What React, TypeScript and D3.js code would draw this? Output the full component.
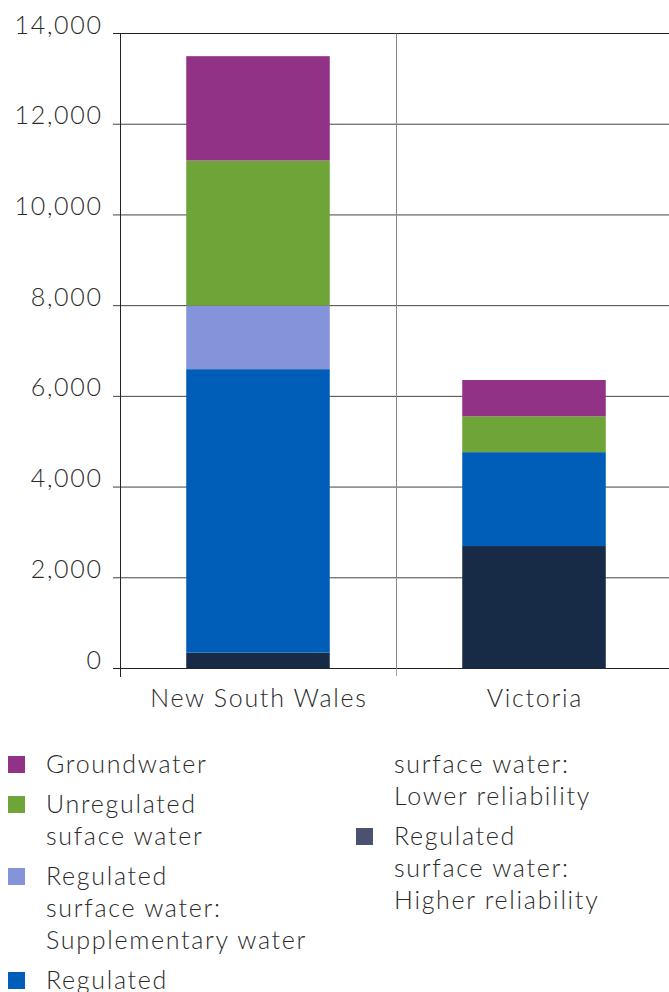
import React from "react";
import * as d3 from "d3";

const states = ["New South Wales", "Victoria"];
const seriesKeys = ["higher", "lower", "supplementary", "unregulated", "groundwater"];
const higherReliability = [350, 2700];
const lowerReliability = [6250, 2070];
const supplementary = [1400, 0];
const unregulated = [3200, 790];
const groundwater = [2300, 800];
const seriesColors = ["#172b46", "#005eb8", "#8593da", "#6ea438", "#913287"];
const legendSwatchColors = ["#913287", "#6ea438", "#8593da", "#005eb8", "#4a5270"];
const yTicks = [0, 2000, 4000, 6000, 8000, 10000, 12000, 14000];

// legend text laid out in two flowing columns
const legendLeft = [
  { swatch: 0, lines: ["Groundwater"] },
  { swatch: 1, lines: ["Unregulated", "suface water"] },
  { swatch: 2, lines: ["Regulated", "surface water:", "Supplementary water"] },
  { swatch: 3, lines: ["Regulated"] },
];
const legendRight = [
  { swatch: -1, lines: ["surface water:", "Lower reliability"] },
  { swatch: 4, lines: ["Regulated", "surface water:", "Higher reliability"] },
];

const W = 669;
const H = 992;
const FONT = "Lato, 'Open Sans', sans-serif";
const TEXT = "#2b2b2b";
const SPACING = 1.7;

export default function App() {
  const x = d3.scaleBand<string>().domain(states).range([120, 672]).paddingInner(0.48).paddingOuter(0.24);
  const y = d3.scaleLinear().domain([0, 14000]).range([668.5, 33.5]);

  const rows = states.map((s, i) => ({
    state: s,
    higher: higherReliability[i],
    lower: lowerReliability[i],
    supplementary: supplementary[i],
    unregulated: unregulated[i],
    groundwater: groundwater[i],
  }));
  const stacked = d3.stack<any>().keys(seriesKeys)(rows);

  const legendBlock = (items: typeof legendLeft, x0: number, swX: number) => {
    let yy = 764;
    const out: React.ReactNode[] = [];
    items.forEach((it, k) => {
      if (it.swatch >= 0) {
        out.push(
          <rect key={"s" + k} x={swX} y={yy - 8} width={17} height={17} fill={legendSwatchColors[it.swatch]} />
        );
      }
      it.lines.forEach((ln, j) => {
        out.push(
          <text
            key={"t" + k + "-" + j}
            x={x0}
            y={yy}
            dy="0.36em"
            fontSize={25}
            fontWeight={300}
            letterSpacing={SPACING}
            fill={TEXT}
          >
            {ln}
          </text>
        );
        yy += 32;
      });
      yy += 8;
    });
    return out;
  };

  return (
    <svg
      width={W}
      height={H}
      style={{ position: "absolute", left: 0, top: 0, fontFamily: FONT }}
    >
      {/* gridlines and tick marks */}
      {yTicks.map((t) => (
        <g key={t}>
          <line x1={113} x2={W} y1={y(t)} y2={y(t)} stroke={t === 0 || t === 14000 ? "#222" : "#444"} strokeWidth={1} />
          <text
            x={101 + SPACING}
            y={y(t)}
            fontSize={25}
            fontWeight={300}
            letterSpacing={SPACING}
            fill={TEXT}
            textAnchor="end"
          >
            {d3.format(",")(t)}
          </text>
        </g>
      ))}

      {/* category divider */}
      <line x1={396.5} x2={396.5} y1={33.5} y2={668.5} stroke="#888" strokeWidth={1} />
      <line x1={396.5} x2={396.5} y1={668.5} y2={676} stroke="#c98ac0" strokeWidth={1} />

      {/* bars */}
      {stacked.map((layer, li) => (
        <g key={layer.key} fill={seriesColors[li]}>
          {layer.map((d, i) =>
            d[1] - d[0] > 0 ? (
              <rect
                key={i}
                x={x(states[i])!}
                width={x.bandwidth()}
                y={y(d[1])}
                height={y(d[0]) - y(d[1])}
              />
            ) : null
          )}
        </g>
      ))}

      {/* y axis line */}
      <line x1={120.5} x2={120.5} y1={33} y2={677} stroke="#222" strokeWidth={1} />

      {/* category labels */}
      {states.map((s) => (
        <text
          key={s}
          x={x(s)! + x.bandwidth() / 2 + SPACING / 2}
          y={707}
          fontSize={25}
          fontWeight={300}
          letterSpacing={SPACING}
          fill={TEXT}
          textAnchor="middle"
        >
          {s}
        </text>
      ))}

      {legendBlock(legendLeft, 46, 8)}
      {legendBlock(legendRight, 394, 356)}
    </svg>
  );
}
